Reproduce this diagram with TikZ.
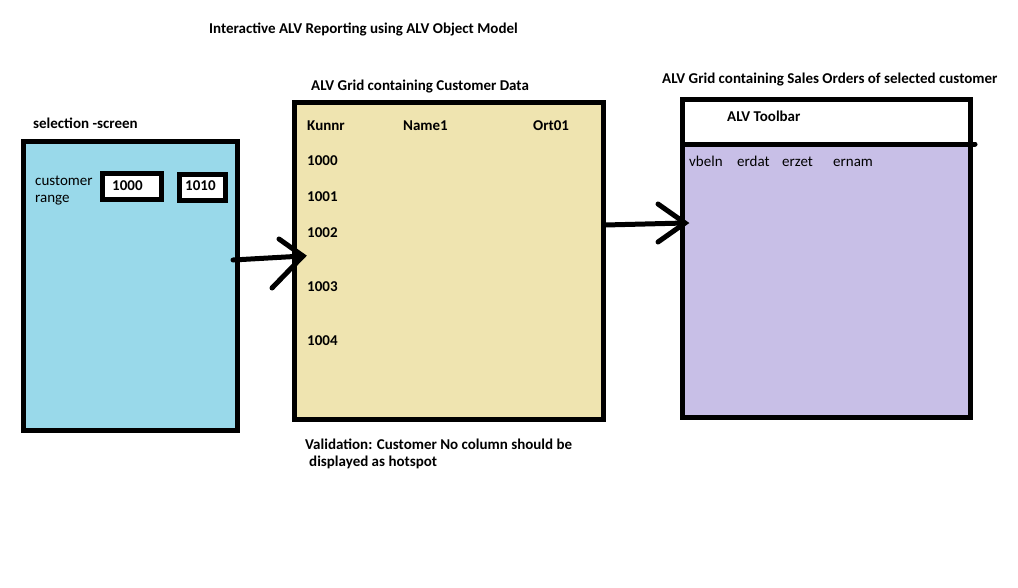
\documentclass[tikz,border=0pt]{standalone}
\usepackage{fontspec}
\setmainfont{Carlito}
\usepackage{tikz}

\definecolor{selblue}{HTML}{99D9EA}
\definecolor{gridtan}{HTML}{EFE4B0}
\definecolor{orderlilac}{HTML}{C8BFE7}

\begin{document}
\begin{tikzpicture}[x=1pt,y=-1pt,
  lbl/.style={anchor=west,inner sep=0pt,font=\fontsize{15}{18}\selectfont\bfseries},
  plainlbl/.style={anchor=base west,inner sep=0pt,font=\fontsize{15}{18}\selectfont},
  panel/.style={draw=black,line width=5pt,inner sep=0pt},
  pen/.style={line width=5pt,line cap=round}]
\useasboundingbox (0,0) rectangle (1018,587);

\node[lbl] (mainTitle) at (209,29) {Interactive ALV Reporting using ALV Object Model};

% selection screen
\node[lbl] (selTitle) at (33,123) {selection -screen};
\node[panel,fill=selblue,minimum width=213.5pt,minimum height=288.5pt] (selScreen) at (130.25,285.75) {};
\node[plainlbl] (custWord) at (35,185) {customer};
\node[plainlbl] (rangeWord) at (35,202) {range};
\node[panel,fill=white,minimum width=59pt,minimum height=26pt] (lowBox) at (132,186.5) {};
\node[panel,fill=white,minimum width=46pt,minimum height=26pt] (highBox) at (202.5,187.5) {};
\node[lbl] (lowVal) at (112,186) {1000};
\node[lbl] (highVal) at (185,186) {1010};

% customer grid
\node[lbl] (custTitle) at (311,87) {ALV Grid containing Customer Data};
\node[panel,fill=gridtan,minimum width=308.5pt,minimum height=316.5pt] (custGrid) at (448.75,260.75) {};
\node[lbl] (colKunnr) at (307,126) {Kunnr};
\node[lbl] (colName) at (403,126) {Name1};
\node[lbl] (colOrt) at (533,126) {Ort01};
\foreach \num/\y in {1000/161,1001/197,1002/233,1003/287,1004/341}
  \node[lbl] (row\num) at (307,\y) {\num};
\node[lbl] (noteA) at (305,444) {Validation: Customer No column should be};
\node[lbl] (noteB) at (309,462) {displayed as hotspot};

% sales order grid
\node[lbl] (orderTitle) at (662,80) {ALV Grid containing Sales Orders of selected customer};
\node[panel,fill=orderlilac,minimum width=288pt,minimum height=317.5pt] (orderGrid) at (826.5,258.25) {};
\fill[white] (685,102) rectangle (968,144);
\coordinate (barLeft) at (682.5,144);
\coordinate (barRight) at (975,144);
\draw[pen] (barLeft) -- (barRight);
\node[lbl] (toolbar) at (727,116) {ALV Toolbar};
\node[plainlbl] (colVbeln) at (689,166) {vbeln};
\node[plainlbl] (colErdat) at (737,166) {erdat};
\node[plainlbl] (colErzet) at (782,166) {erzet};
\node[plainlbl] (colErnam) at (833,166) {ernam};

% hand drawn arrows
\coordinate (tailA) at (233,260);
\coordinate (tipA) at (303,256);
\coordinate (wingA1) at (279,239);
\coordinate (wingA2) at (272,288);
\draw[pen] (tailA) -- (tipA);
\draw[pen] (wingA1) -- (tipA) -- (wingA2);
\coordinate (tailB) at (605,225);
\coordinate (tipB) at (685,223);
\coordinate (wingB1) at (658,204);
\coordinate (wingB2) at (658,242);
\draw[pen] (tailB) -- (tipB);
\draw[pen] (wingB1) -- (tipB) -- (wingB2);
\end{tikzpicture}
\end{document}
